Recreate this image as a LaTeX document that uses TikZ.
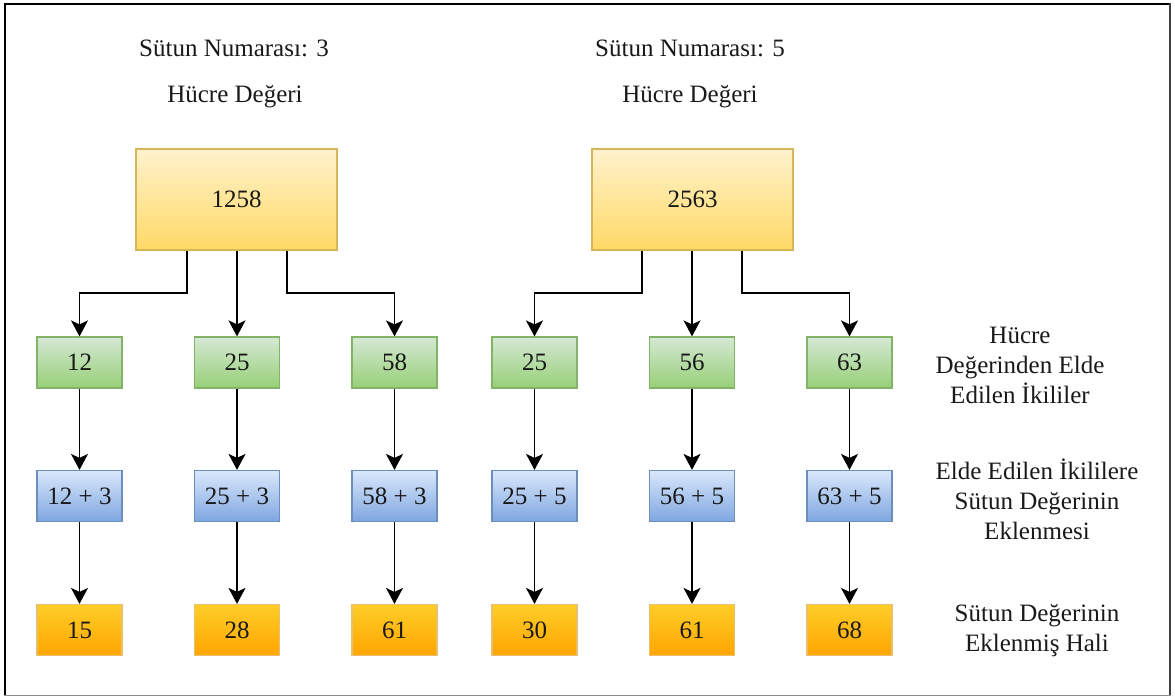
\documentclass[tikz,border=0pt]{standalone}
\usepackage{fontspec}
\setmainfont{Liberation Serif}
\usetikzlibrary{arrows.meta}

\definecolor{ylTop}{HTML}{FFF2CC}
\definecolor{ylBot}{HTML}{FFD966}
\definecolor{ylLine}{HTML}{D6B656}
\definecolor{grTop}{HTML}{D5E8D4}
\definecolor{grBot}{HTML}{97D077}
\definecolor{grLine}{HTML}{82B366}
\definecolor{blTop}{HTML}{DAE8FC}
\definecolor{blBot}{HTML}{7EA6E0}
\definecolor{blLine}{HTML}{6C8EBF}
\definecolor{orTop}{HTML}{FFCD28}
\definecolor{orBot}{HTML}{FFA500}
\definecolor{orLine}{HTML}{E8C070}

\tikzset{
  txt/.style={font=\fontsize{25}{30}\selectfont, inner sep=0pt, text=black!90},
  cellbox/.style={txt, draw, line width=1.2pt, minimum width=85pt, minimum height=51pt},
  valbox/.style={txt, draw=ylLine, line width=1.2pt, top color=ylTop, bottom color=ylBot,
                 minimum width=201pt, minimum height=101pt},
  pairbox/.style={cellbox, draw=grLine, top color=grTop, bottom color=grBot},
  sumbox/.style={cellbox, draw=blLine, top color=blTop, bottom color=blBot},
  resbox/.style={cellbox, draw=orLine, top color=orTop, bottom color=orBot},
  arr/.style={line width=1.5pt, -{Stealth[length=16pt, width=17pt, inset=4pt]}},
  note/.style={txt, align=center}
}

\begin{document}
\begin{tikzpicture}[x=1pt, y=-1pt]
\useasboundingbox (0,0) rectangle (1175,697);

% frame
\draw[line width=2pt, black] (4,3.5) -- (1171,3.5);
\draw[line width=2.5pt, black] (5,2.5) -- (5,695);
\draw[line width=2.5pt, black!75] (1170,2.5) -- (1170,695);
\draw[line width=1.5pt, black!45] (4,695.5) -- (1171,695.5);

% column headings
\node[txt] (h1) at (234,48) {Sütun Numarası: 3};
\node[txt] (v1) at (235,97) {Hücre Değeri};
\node[txt] (h2) at (690,48) {Sütun Numarası: 5};
\node[txt] (v2) at (690,97) {Hücre Değeri};

% cell values
\node[valbox] (t1) at (236.5,199.5) {1258};
\node[valbox] (t2) at (692.5,199.5) {2563};

% pairs
\node[pairbox] (g1) at (79.5,362.5) {12};
\node[pairbox] (g2) at (237,362.5) {25};
\node[pairbox] (g3) at (394.5,362.5) {58};
\node[pairbox] (g4) at (534.5,362.5) {25};
\node[pairbox] (g5) at (692,362.5) {56};
\node[pairbox] (g6) at (849.5,362.5) {63};

% pairs plus column number
\node[sumbox] (b1) at (79.5,496) {12 + 3};
\node[sumbox] (b2) at (237,496) {25 + 3};
\node[sumbox] (b3) at (394.5,496) {58 + 3};
\node[sumbox] (b4) at (534.5,496) {25 + 5};
\node[sumbox] (b5) at (692,496) {56 + 5};
\node[sumbox] (b6) at (849.5,496) {63 + 5};

% results
\node[resbox] (o1) at (79.5,630) {15};
\node[resbox] (o2) at (237,630) {28};
\node[resbox] (o3) at (394.5,630) {61};
\node[resbox] (o4) at (534.5,630) {30};
\node[resbox] (o5) at (692,630) {61};
\node[resbox] (o6) at (849.5,630) {68};

% row descriptions
\node[note] (n1) at (1020,365) {Hücre\\Değerinden Elde\\Edilen İkililer};
\node[note] (n2) at (1037,499) {Elde Edilen İkililere\\Sütun Değerinin\\Eklenmesi};
\node[note] (n3) at (1037,631) {Sütun Değerinin\\Eklenmiş Hali};

% elbow points of the split connectors
\coordinate (e1) at (187,293);
\coordinate (e3) at (287,293);
\coordinate (e4) at (642,293);
\coordinate (e6) at (742,293);

% split connectors
\draw[arr] (t1.south -| e1) -- (e1) -| (g1.north);
\draw[arr] (t1.south -| g2.north) -- (g2.north);
\draw[arr] (t1.south -| e3) -- (e3) -| (g3.north);
\draw[arr] (t2.south -| e4) -- (e4) -| (g4.north);
\draw[arr] (t2.south -| g5.north) -- (g5.north);
\draw[arr] (t2.south -| e6) -- (e6) -| (g6.north);

% vertical connectors
\foreach \i in {1,...,6} {
  \draw[arr] (g\i) -- (b\i);
  \draw[arr] (b\i) -- (o\i);
}
\end{tikzpicture}
\end{document}
